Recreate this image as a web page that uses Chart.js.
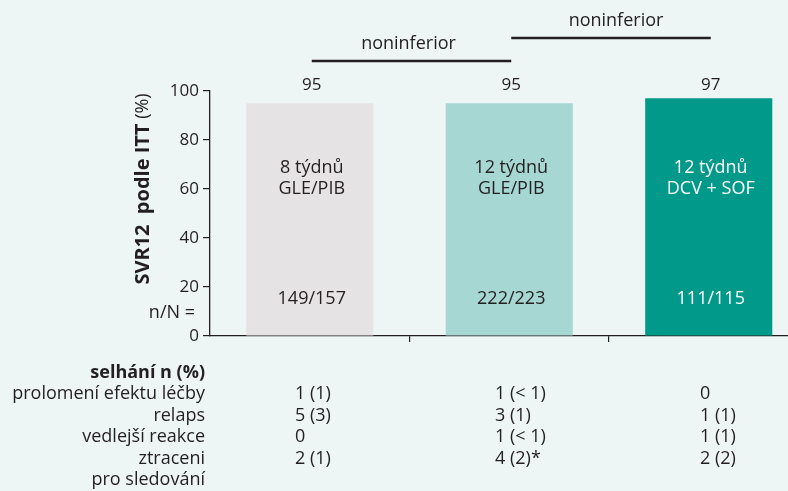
<!DOCTYPE html>
<html lang="cs">
<head>
<meta charset="utf-8">
<title>SVR12 podle ITT</title>
<script src="https://cdn.jsdelivr.net/npm/chart.js@4/dist/chart.umd.min.js"></script>
<style>
    html, body { margin: 0; padding: 0; background: #EDF6F5; overflow: hidden; }
    #wrap { position: relative; width: 812px; height: 491px; }
</style>
</head>
<body>
<div id="wrap"><canvas id="chart"></canvas></div>
<script>
// Data
const regimenWeeks = ['8 týdnů', '12 týdnů', '12 týdnů'];
const regimenDrugs = ['GLE/PIB', 'GLE/PIB', 'DCV + SOF'];
const svr12 = [95, 95, 97];
const nOverN = ['149/157', '222/223', '111/115'];
const yTicks = [0, 20, 40, 60, 80, 100];

// Srovnání (index sloupce od - do)
const comparisonFrom = [0, 1];
const comparisonTo = [1, 2];
const comparisonLabel = ['noninferior', 'noninferior'];

// Tabulka selhání
const failureHeader = 'selhání n (%)';
const failureLabels = ['prolomení efektu léčby', 'relaps', 'vedlejší reakce', 'ztraceni', 'pro sledování'];
const failures8GlePib = ['1 (1)', '5 (3)', '0', '2 (1)'];
const failures12GlePib = ['1 (< 1)', '3 (1)', '1 (< 1)', '4 (2)*'];
const failures12DcvSof = ['0', '1 (1)', '1 (1)', '2 (2)'];

const INK = '#231F20';
const FONT = "'Open Sans', sans-serif";
const barColors = ['#E6E3E4', '#A6D7D3', '#00998A'];
const innerTextColors = [INK, INK, '#FFFFFF'];

Chart.defaults.font.family = FONT;
Chart.defaults.color = INK;

// Popisky, závorky, tabulka a název osy
const annotations = {
    id: 'annotations',
    afterDatasetsDraw(chart) {
        const { ctx, chartArea } = chart;
        const x = chart.scales.x;
        const y = chart.scales.y;
        ctx.save();
        ctx.fillStyle = INK;
        ctx.textAlign = 'center';
        ctx.textBaseline = 'middle';

        // hodnoty nad sloupci
        ctx.font = `17px ${FONT}`;
        svr12.forEach((v, i) => {
            ctx.fillText(String(v), x.getPixelForValue(i) + 2, chartArea.top - 6);
        });

        // texty uvnitř sloupců
        svr12.forEach((v, i) => {
            const cx = x.getPixelForValue(i) + 2;
            ctx.fillStyle = innerTextColors[i];
            ctx.font = `18px ${FONT}`;
            ctx.fillText(regimenWeeks[i], cx, y.getPixelForValue(68.5));
            ctx.fillText(regimenDrugs[i], cx, y.getPixelForValue(60));
            ctx.fillText(nOverN[i], cx, y.getPixelForValue(15));
        });
        ctx.fillStyle = INK;
        ctx.textAlign = 'right';
        ctx.font = `18px ${FONT}`;
        ctx.fillText('n/N =', chartArea.left - 15, y.getPixelForValue(9.4));

        // noninferior závorky
        const bracketY = [61, 38];
        ctx.strokeStyle = INK;
        ctx.lineWidth = 2.4;
        ctx.textAlign = 'center';
        ctx.font = `18px ${FONT}`;
        comparisonLabel.forEach((label, k) => {
            const x1 = x.getPixelForValue(comparisonFrom[k]) + 2;
            const x2 = x.getPixelForValue(comparisonTo[k]) + 2;
            ctx.beginPath();
            ctx.moveTo(x1, bracketY[k]);
            ctx.lineTo(x2, bracketY[k]);
            ctx.stroke();
            ctx.fillText(label, (x1 + x2) / 2 - 3 + k * 8, bracketY[k] - 17);
        });

        // tabulka selhání
        const rowY = [373, 394, 416, 437, 459, 480];
        ctx.textAlign = 'right';
        ctx.font = `bold 18px ${FONT}`;
        ctx.fillText(failureHeader, 205, rowY[0]);
        ctx.font = `18px ${FONT}`;
        failureLabels.forEach((t, r) => ctx.fillText(t, 205, rowY[r + 1]));
        ctx.textAlign = 'left';
        const cols = [failures8GlePib, failures12GlePib, failures12DcvSof];
        const colX = [295, 495, 700];
        cols.forEach((col, c) => {
            col.forEach((t, r) => ctx.fillText(t, colX[c], rowY[r + 1]));
        });

        // název osy y (tučná část + (%))
        ctx.translate(143, 189);
        ctx.rotate(-Math.PI / 2);
        const boldPart = 'SVR12  podle ITT';
        const normalPart = ' (%)';
        ctx.font = `bold 20px ${FONT}`;
        const wb = ctx.measureText(boldPart).width;
        ctx.font = `18px ${FONT}`;
        const wn = ctx.measureText(normalPart).width;
        const start = -(wb + wn) / 2;
        ctx.textAlign = 'left';
        ctx.font = `bold 20px ${FONT}`;
        ctx.fillText(boldPart, start, 0);
        ctx.font = `18px ${FONT}`;
        ctx.fillText(normalPart, start + wb, 0);

        ctx.restore();
    }
};

new Chart(document.getElementById('chart'), {
    type: 'bar',
    data: {
        labels: regimenDrugs,
        datasets: [{
            data: svr12,
            backgroundColor: barColors,
            borderWidth: 0,
            barPercentage: 0.637,
            categoryPercentage: 1
        }]
    },
    options: {
        responsive: true,
        maintainAspectRatio: false,
        animation: false,
        layout: { padding: { top: 91, right: 3.5, left: 0, bottom: 0 } },
        plugins: {
            legend: { display: false },
            tooltip: { enabled: false }
        },
        scales: {
            x: {
                offset: true,
                grid: {
                    offset: true,
                    drawOnChartArea: false,
                    drawTicks: true,
                    tickLength: 6,
                    lineWidth: 1.2,
                    color: ctx => ctx.index === 0 ? 'rgba(0,0,0,0)' : INK
                },
                border: { display: true, color: INK, width: 1.3 },
                ticks: { display: false },
                afterFit: scale => { scale.height = 155; }
            },
            y: {
                min: 0,
                max: 100,
                afterBuildTicks: scale => { scale.ticks = yTicks.map(v => ({ value: v })); },
                ticks: { font: { size: 17 }, color: INK, padding: 4 },
                grid: { drawOnChartArea: false, tickLength: 7, lineWidth: 1.2, color: INK },
                border: { display: true, color: INK, width: 1.3 },
                afterFit: scale => { scale.width = 210; }
            }
        }
    },
    plugins: [annotations]
});
</script>
</body>
</html>
